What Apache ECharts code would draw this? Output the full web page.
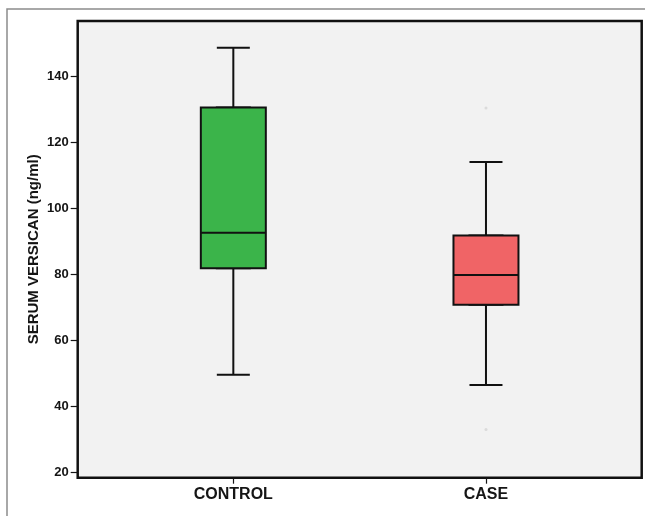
<!DOCTYPE html>
<html>
<head>
<meta charset="utf-8">
<script src="https://cdn.jsdelivr.net/npm/echarts@6/dist/echarts.min.js"></script>
<style>
  html, body { margin: 0; padding: 0; background: #ffffff; }
  #chart { width: 645px; height: 516px; }
</style>
</head>
<body>
<div id="chart"></div>
<script>
// Serum versican by group
const categories = ['CONTROL', 'CASE'];
const whiskerLow = [49.6, 46.5];
const q1 = [81.9, 70.8];
const median = [92.6, 79.8];
const q3 = [130.6, 91.8];
const whiskerHigh = [148.7, 114.1];
const outlierGroup = ['CASE', 'CASE'];
const outlierValues = [130.4, 33.0];
const yTicks = [20, 40, 60, 80, 100, 120, 140];
const boxColors = ['#3bb44a', '#f06466'];

const FONT = "'Liberation Sans', Arial, sans-serif";
const INK = '#151515';

// Frame of the plot area and the inner data area that centres the two groups
const frame = { left: 77.7, top: 21, right: 3.3, bottom: 38.3 };
const dataLeft = 107;
const dataRight = 32.7;

const chart = echarts.init(document.getElementById('chart'), null, { renderer: 'canvas' });

const whiskerData = categories.map((c, i) => ({
  value: [whiskerLow[i], q1[i], median[i], q3[i], whiskerHigh[i]]
}));
const boxData = categories.map((c, i) => ({
  value: [q1[i], q1[i], median[i], q3[i], q3[i]],
  itemStyle: { color: boxColors[i] }
}));
const outlierData = outlierGroup.map((g, i) => [g, outlierValues[i]]);

chart.setOption({
  animation: false,
  backgroundColor: '#ffffff',
  graphic: [{
    type: 'rect',
    silent: true,
    shape: { x: 7, y: 9, width: 800, height: 700 },
    style: { fill: null, stroke: '#8c8c8c', lineWidth: 1.5 }
  }],
  grid: [
    {
      left: frame.left, top: frame.top, right: frame.right, bottom: frame.bottom,
      show: true, backgroundColor: '#f2f2f2', borderColor: '#111111', borderWidth: 2.5
    },
    {
      left: dataLeft, top: frame.top, right: dataRight, bottom: frame.bottom
    }
  ],
  xAxis: [
    { gridIndex: 0, type: 'value', show: false, min: 0, max: 1 },
    {
      gridIndex: 1, type: 'category', data: categories,
      axisLine: { show: false },
      axisTick: { show: true, inside: false, alignWithLabel: true, length: 6, lineStyle: { color: INK, width: 1.2 } },
      axisLabel: { color: INK, fontFamily: FONT, fontWeight: 'bold', fontSize: 16, margin: 9 }
    },
    { gridIndex: 1, type: 'category', data: categories, show: false }
  ],
  yAxis: [
    { gridIndex: 0, type: 'value', show: false, min: 0, max: 1 },
    {
      gridIndex: 1, type: 'value', min: 18.4, max: 156.8, offset: dataLeft - frame.left,
      name: 'SERUM VERSICAN (ng/ml)', nameLocation: 'middle', nameGap: 36,
      nameMoveOverlap: false,
      nameTextStyle: { color: INK, fontFamily: FONT, fontWeight: 'bold', fontSize: 15 },
      axisLine: { show: false },
      splitLine: { show: false },
      axisTick: { show: true, inside: false, length: 7, customValues: yTicks, lineStyle: { color: INK, width: 1.2 } },
      axisLabel: { color: INK, fontFamily: FONT, fontWeight: 'bold', fontSize: 13, margin: 9, customValues: yTicks }
    }
  ],
  series: [
    {
      name: 'whiskers', type: 'boxplot', xAxisIndex: 2, yAxisIndex: 1, z: 2,
      boxWidth: [33, 33],
      itemStyle: { color: '#111111', borderColor: '#111111', borderWidth: 2 },
      data: whiskerData
    },
    {
      name: 'boxes', type: 'boxplot', xAxisIndex: 1, yAxisIndex: 1, z: 3,
      boxWidth: [65, 65],
      itemStyle: { borderColor: '#111111', borderWidth: 2 },
      data: boxData
    },
    {
      name: 'outliers', type: 'scatter', xAxisIndex: 1, yAxisIndex: 1, z: 4,
      symbol: 'circle', symbolSize: 3,
      itemStyle: { color: '#d4d4d4' },
      data: outlierData
    }
  ]
});
</script>
</body>
</html>
